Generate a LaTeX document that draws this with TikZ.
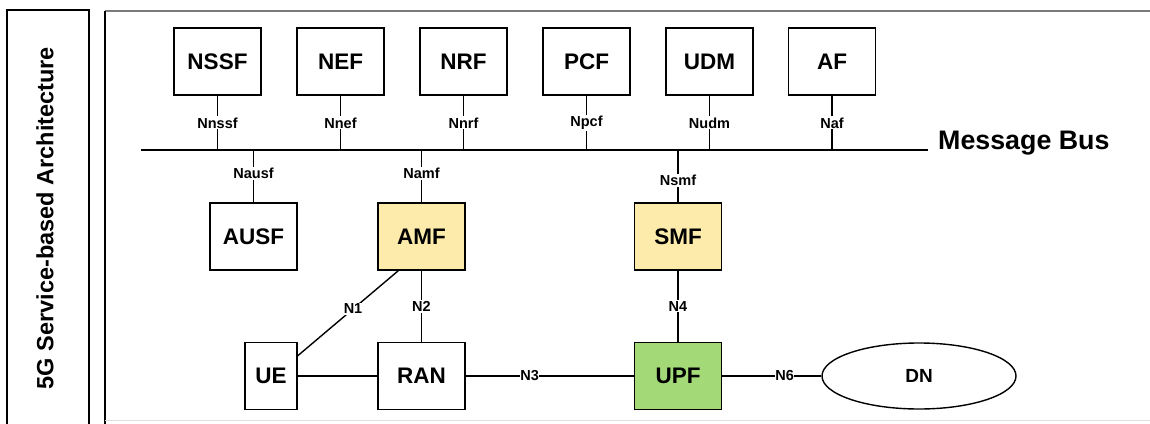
\documentclass[tikz,border=0pt]{standalone}
\usepackage{fontspec}
\setmainfont{Liberation Sans}
\usetikzlibrary{shapes.geometric,calc}
\definecolor{amfyellow}{HTML}{FCEBAA}
\definecolor{upfgreen}{HTML}{A3D977}
\definecolor{framegray}{HTML}{7A7A7A}
\tikzset{
  nfbox/.style={draw, line width=1.4pt, minimum width=87pt, minimum height=67pt, inner sep=0pt,
    font=\fontsize{22.5}{26}\selectfont\bfseries},
  iflab/.style={fill=white, inner sep=1.2pt, font=\fontsize{14.5}{16}\selectfont\bfseries},
  conn/.style={line width=1.4pt},
}
\begin{document}
\begin{tikzpicture}[x=1pt,y=-1pt]
\useasboundingbox (0,0) rectangle (1150,423);
% left title box
\draw[line width=1.4pt] (7,426) -- (7,10) -- (89,10) -- (89,426);
\node[rotate=90, font=\fontsize{23.5}{27}\selectfont\bfseries] (title) at (45,218) {5G Service-based Architecture};
% outer frame
\draw[line width=1.6pt, framegray] (105,11) -- (1152,11);
\draw[line width=1.4pt] (105,11) -- (105,426);
\draw[line width=1pt, gray!25] (105,420) -- (1152,420);

% top NFs
\node[nfbox] (nssf) at (217.5,61.5) {NSSF};
\node[nfbox] (nef)  at (340.5,61.5) {NEF};
\node[nfbox] (nrf)  at (463.5,61.5) {NRF};
\node[nfbox] (pcf)  at (586.5,61.5) {PCF};
\node[nfbox] (udm)  at (709.5,61.5) {UDM};
\node[nfbox] (af)   at (832,61.5) {AF};

% bus
\coordinate (busL) at (141,150);
\coordinate (busR) at (928,150);
\draw[line width=2.8pt] (busL) -- (busR);
\node[anchor=west, font=\fontsize{26.8}{30}\selectfont\bfseries, inner sep=0pt] (bus) at (938,143) {Message Bus};

\foreach \n/\l in {nssf/Nnssf, nef/Nnef, nrf/Nnrf, pcf/Npcf, udm/Nudm, af/Naf}{
  \draw[conn] (\n.south) -- node[iflab]{\l} (\n.south |- busL);
}

% middle NFs
\node[nfbox] (ausf) at (253.5,236.5) {AUSF};
\node[nfbox, fill=amfyellow] (amf) at (421.5,236.5) {AMF};
\node[nfbox, fill=amfyellow] (smf) at (678,236.5) {SMF};

\draw[conn] (ausf.north |- busL) -- node[iflab, pos=0.45]{Nausf} (ausf.north);
\draw[conn] (amf.north |- busL) -- node[iflab, pos=0.45]{Namf} (amf.north);
\draw[conn] (smf.north |- busL) -- node[iflab, pos=0.58]{Nsmf} (smf.north);

% bottom row
\node[nfbox, minimum width=52pt] (ue) at (271,376) {UE};
\node[nfbox] (ran) at (421.5,376) {RAN};
\node[nfbox, fill=upfgreen] (upf) at (678,376) {UPF};
\node[draw, ellipse, line width=1.4pt, minimum width=194pt, minimum height=66pt, inner sep=0pt,
  font=\fontsize{19}{22}\selectfont\bfseries] (dn) at (919,376) {DN};

\draw[conn] ($(ue.north east)+(0,14)$) -- node[iflab, pos=0.55]{N1} ($(amf.south west)+(21,0)$);
\draw[conn] (amf.south) -- node[iflab]{N2} (ran.north);
\draw[conn] (smf.south) -- node[iflab]{N4} (upf.north);
\draw[conn] (ue.east) -- (ran.west);
\draw[conn] (ran.east) -- node[iflab, pos=0.38, inner sep=0.5pt]{N3} (upf.west);
\draw[conn] (upf.east) -- node[iflab, pos=0.63, inner sep=0.5pt]{N6} (dn.west);
\end{tikzpicture}
\end{document}
